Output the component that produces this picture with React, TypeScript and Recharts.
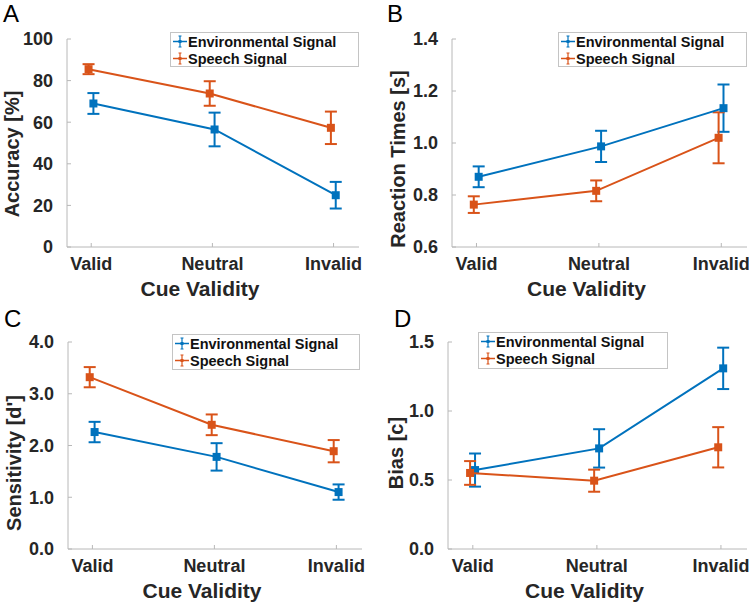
import React from "react";
import {
  ComposedChart,
  ErrorBar,
  Legend,
  Scatter,
  XAxis,
  YAxis,
  ZAxis,
} from "recharts";

// categories on the x axis
const CUE_VALIDITY = ["Valid", "Neutral", "Invalid"];
const ENV_NAME = "Environmental Signal";
const SPEECH_NAME = "Speech Signal";

// A: accuracy [%]
const ACC_ENV = [69.0, 56.5, 24.9];
const ACC_ENV_SEM = [5.0, 8.1, 6.4];
const ACC_SPEECH = [85.5, 73.8, 57.3];
const ACC_SPEECH_SEM = [2.4, 5.9, 7.8];
const ACC_TICKS = [0, 20, 40, 60, 80, 100];

// B: reaction times [s]
const RT_ENV = [0.87, 0.987, 1.134];
const RT_ENV_SEM = [0.04, 0.06, 0.091];
const RT_SPEECH = [0.763, 0.816, 1.02];
const RT_SPEECH_SEM = [0.032, 0.04, 0.098];
const RT_TICKS = [0.6, 0.8, 1.0, 1.2, 1.4];

// C: sensitivity d'
const DP_ENV = [2.26, 1.78, 1.1];
const DP_ENV_SEM = [0.197, 0.265, 0.148];
const DP_SPEECH = [3.32, 2.4, 1.89];
const DP_SPEECH_SEM = [0.195, 0.2, 0.215];
const DP_TICKS = [0, 1, 2, 3, 4];

// D: bias c
const BIAS_ENV = [0.572, 0.729, 1.309];
const BIAS_ENV_SEM = [0.12, 0.139, 0.15];
const BIAS_SPEECH = [0.551, 0.495, 0.737];
const BIAS_SPEECH_SEM = [0.086, 0.08, 0.146];
const BIAS_TICKS = [0, 0.5, 1.0, 1.5];

const BLUE = "#0072bd";
const ORANGE = "#d95319";
const AXIS_GRAY = "#b8b8b8";
const TEXT = "#262626";
const FONT = '"Liberation Sans", Arial, Helvetica, sans-serif';

// small horizontal dodge so the error bars don't overlap
const ENV_DODGE = 0.018;
const SPEECH_DODGE = -0.022;

function toPoints(values: number[], sem: number[], dodge: number) {
  return values.map((y, i) => ({ x: i + 1 + dodge, y, err: sem[i] }));
}

function LegendBox({ payload }: any) {
  const items = payload || [];
  return (
    <div
      style={{
        border: "1px solid #c4c4c4",
        background: "#fff",
        boxSizing: "border-box",
        height: "100%",
        padding: "0 0 0 1px",
      }}
    >
      {items.map((entry: any) => (
        <div
          key={entry.value}
          style={{ display: "flex", alignItems: "center", height: 17 }}
        >
          <svg width={16} height={17} style={{ flex: "none" }}>
            <line x1={1} x2={15} y1={8.5} y2={8.5} stroke={entry.color} strokeWidth={1.5} />
            <line x1={8} x2={8} y1={3} y2={14} stroke={entry.color} strokeWidth={1.2} />
            <line x1={6.5} x2={9.5} y1={3} y2={3} stroke={entry.color} strokeWidth={1} />
            <line x1={6.5} x2={9.5} y1={14} y2={14} stroke={entry.color} strokeWidth={1} />
            <rect x={6.5} y={7} width={3} height={3} fill={entry.color} />
          </svg>
          <span
            style={{
              fontFamily: FONT,
              fontWeight: "bold",
              fontSize: 14.5,
              color: "#111",
              whiteSpace: "nowrap",
            }}
          >
            {entry.value}
          </span>
        </div>
      ))}
    </div>
  );
}

type PanelProps = {
  letter: string;
  letterX: number;
  letterY: number;
  yLabel: string;
  yLabelX: number;
  yLabelY: number;
  yDomain: [number, number];
  yTicks: number[];
  digits: number;
  env: number[];
  envSem: number[];
  speech: number[];
  speechSem: number[];
  left: number;
  top: number;
  width: number;
  height: number;
  plot: { left: number; top: number; right: number; bottom: number };
  legend: { left: number; top: number; width: number; height: number };
};

function Panel(p: PanelProps) {
  const tickStyle = {
    fill: TEXT,
    fontSize: 18,
    fontWeight: "bold",
    fontFamily: FONT,
  };
  return (
    <div
      style={{
        position: "absolute",
        left: p.left,
        top: p.top,
        width: p.width,
        height: p.height,
      }}
    >
      <ComposedChart
        width={p.width}
        height={p.height}
        margin={{ top: p.plot.top, right: p.width - p.plot.right, bottom: 0, left: 0 }}
      >
        <XAxis
          type="number"
          dataKey="x"
          domain={[0.8, 3.21]}
          ticks={[1, 2, 3]}
          allowDataOverflow
          tickFormatter={(v: number) => CUE_VALIDITY[Math.round(v) - 1]}
          height={p.height - p.plot.bottom}
          stroke={AXIS_GRAY}
          tick={tickStyle}
          tickSize={-4}
          tickMargin={14}
          label={(props: any) => {
            const vb = props.viewBox || {};
            return (
              <text
                x={vb.x + vb.width / 2 - 13}
                y={p.plot.bottom + 48.5}
                textAnchor="middle"
                fill={TEXT}
                fontSize={21}
                fontWeight="bold"
                fontFamily={FONT}
              >
                Cue Validity
              </text>
            );
          }}
        />
        <YAxis
          type="number"
          dataKey="y"
          domain={p.yDomain}
          ticks={p.yTicks}
          allowDataOverflow
          tickFormatter={(v: number) => v.toFixed(p.digits)}
          width={p.plot.left}
          stroke={AXIS_GRAY}
          tick={tickStyle}
          tickSize={-4}
          tickMargin={18}
          label={() => (
            <text
              x={p.yLabelX}
              y={p.yLabelY}
              transform={`rotate(-90 ${p.yLabelX} ${p.yLabelY})`}
              textAnchor="middle"
              fill={TEXT}
              fontSize={20}
              fontWeight="bold"
              fontFamily={FONT}
            >
              {p.yLabel}
            </text>
          )}
        />
        <ZAxis range={[36, 36]} />
        <Legend
          layout="vertical"
          align="center"
          verticalAlign="middle"
          content={<LegendBox />}
          wrapperStyle={{
            left: p.legend.left,
            top: p.legend.top,
            width: p.legend.width,
            height: p.legend.height,
          }}
        />
        <Scatter
          name={ENV_NAME}
          data={toPoints(p.env, p.envSem, ENV_DODGE)}
          fill={BLUE}
          shape="square"
          line={{ stroke: BLUE, strokeWidth: 2 }}
          isAnimationActive={false}
        >
          <ErrorBar dataKey="err" direction="y" width={6} strokeWidth={2} stroke={BLUE} />
        </Scatter>
        <Scatter
          name={SPEECH_NAME}
          data={toPoints(p.speech, p.speechSem, SPEECH_DODGE)}
          fill={ORANGE}
          shape="square"
          line={{ stroke: ORANGE, strokeWidth: 2 }}
          isAnimationActive={false}
        >
          <ErrorBar dataKey="err" direction="y" width={6} strokeWidth={2} stroke={ORANGE} />
        </Scatter>
      </ComposedChart>
      <svg
        width={60}
        height={40}
        style={{ position: "absolute", left: 0, top: 0, pointerEvents: "none" }}
      >
        <text x={p.letterX} y={p.letterY} fontSize={24} fontFamily={FONT} fill="#000">
          {p.letter}
        </text>
      </svg>
    </div>
  );
}

export default function App() {
  return (
    <div
      style={{
        position: "absolute",
        left: 0,
        top: 0,
        width: 749,
        height: 602,
        background: "#fff",
      }}
    >
      <Panel
        letter="A"
        letterX={3}
        letterY={21.7}
        yLabel="Accuracy [%]"
        yLabelX={18.5}
        yLabelY={154}
        yDomain={[0, 100]}
        yTicks={ACC_TICKS}
        digits={0}
        env={ACC_ENV}
        envSem={ACC_ENV_SEM}
        speech={ACC_SPEECH}
        speechSem={ACC_SPEECH_SEM}
        left={0}
        top={0}
        width={375}
        height={300}
        plot={{ left: 67, top: 39, right: 359, bottom: 247 }}
        legend={{ left: 170, top: 32, width: 189, height: 35 }}
      />
      <Panel
        letter="B"
        letterX={12}
        letterY={21.7}
        yLabel="Reaction Times [s]"
        yLabelX={29.5}
        yLabelY={159}
        yDomain={[0.6, 1.4]}
        yTicks={RT_TICKS}
        digits={1}
        env={RT_ENV}
        envSem={RT_ENV_SEM}
        speech={RT_SPEECH}
        speechSem={RT_SPEECH_SEM}
        left={375}
        top={0}
        width={374}
        height={300}
        plot={{ left: 77, top: 39, right: 372, bottom: 247 }}
        legend={{ left: 183, top: 32, width: 189, height: 35 }}
      />
      <Panel
        letter="C"
        letterX={4}
        letterY={26.7}
        yLabel="Sensitivity [d']"
        yLabelX={20.5}
        yLabelY={163}
        yDomain={[0, 4]}
        yTicks={DP_TICKS}
        digits={1}
        env={DP_ENV}
        envSem={DP_ENV_SEM}
        speech={DP_SPEECH}
        speechSem={DP_SPEECH_SEM}
        left={0}
        top={300}
        width={375}
        height={302}
        plot={{ left: 68, top: 42, right: 362, bottom: 249 }}
        legend={{ left: 172, top: 34, width: 188, height: 36 }}
      />
      <Panel
        letter="D"
        letterX={19}
        letterY={26.7}
        yLabel="Bias [c]"
        yLabelX={28}
        yLabelY={153}
        yDomain={[0, 1.5]}
        yTicks={BIAS_TICKS}
        digits={1}
        env={BIAS_ENV}
        envSem={BIAS_ENV_SEM}
        speech={BIAS_SPEECH}
        speechSem={BIAS_SPEECH_SEM}
        left={375}
        top={300}
        width={374}
        height={302}
        plot={{ left: 73, top: 42, right: 372, bottom: 249 }}
        legend={{ left: 103, top: 32, width: 190, height: 37 }}
      />
    </div>
  );
}
